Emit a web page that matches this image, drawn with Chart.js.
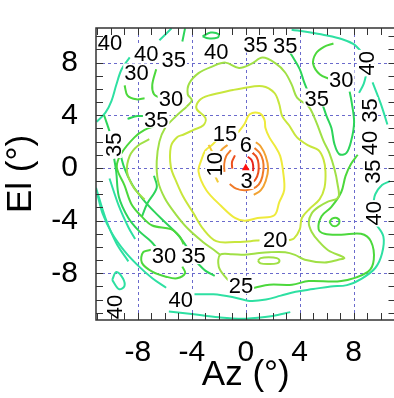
<!DOCTYPE html>
<html><head><meta charset="utf-8">
<script src="https://cdn.jsdelivr.net/npm/chart.js@4"></script>
<style>html,body{margin:0;padding:0;overflow:hidden;background:#fff}canvas{display:block}</style>
</head><body>
<canvas id="c" width="400" height="398"></canvas>
<script>
// ---- axes ----
const xTicks = [-8, -4, 0, 4, 8];
const yTicks = [-8, -4, 0, 4, 8];
const xRange = [-11.1, 11.1];
const yRange = [-11.55, 10.63];

// ---- contour levels (colour per level) ----
const levels = [3, 4, 6, 8, 10, 15, 20, 25, 30, 35, 40];
const levelColors = ['#e8251c', '#ec4f1e', '#f07a28', '#f2a232', '#f2cc3c', '#eeea3c', '#c8e63c', '#a0e046', '#4cd83c', '#2cd45a', '#2ee0a2'];

// ---- contour paths (Az, El in degrees) ----
const c3 = [
  [[0.15,0.85],[0.42,0.62],[0.55,0.18],[0.52,-0.35],[0.3,-0.7]]
];
const c4 = [
  [[0.5,1.15],[0.82,0.8],[0.95,0.3],[0.93,-0.35],[0.72,-0.88],[0.36,-1.18]],
  [[-0.8,0.95],[-1.02,0.45],[-1.0,-0.05]]
];
const c6 = [
  [[0.65,1.52],[1.05,1.12],[1.28,0.55],[1.31,-0.16],[1.12,-0.99],[0.75,-1.46],[0.02,-1.69],[-0.71,-1.57],[-1.19,-1.22]],
  [[-1.1,1.35],[-1.45,0.9],[-1.6,0.3],[-1.58,-0.3]]
];
const c8 = [
  [[0.75,1.95],[1.1,1.65],[1.48,0.89],[1.66,-0.05],[1.48,-0.99],[1.12,-1.69],[0.6,-2.05]],
  [[-1.35,1.75],[-1.75,1.42],[-2.0,1.0]]
];
const c10 = [
  [[-2.75,1.75],[-2.45,1.1],[-2.38,0.3],[-2.3,-0.5],[-2.05,-1.1]]
];
const c15 = [
  [[-0.58,2.68],[-0.07,3.38],[0.29,4.08],[1.02,4.15],[1.39,3.66],[1.46,3.03],[1.75,2.32],[2.19,1.62],[2.55,0.92],[2.77,-0.28],[2.85,-1.69],[2.48,-2.61],[2.12,-3.59],[0.88,-3.8],[-0.07,-4.01],[-0.8,-3.8],[-1.82,-2.89],[-2.92,-1.69],[-3.5,-0.28],[-3.28,0.63],[-2.99,1.34],[-2.48,1.76],[-2.04,2.25]]
];
const c20 = [
  [[3.21,-5.49],[3.58,-5.35],[4.01,-4.65],[4.16,-3.8],[4.74,-3.1],[5.47,-2.39],[5.84,-1.48],[5.91,-0.28],[5.77,0.63],[5.4,1.34],[4.67,1.69],[3.8,2.32],[3.21,3.24],[2.7,3.94],[2.48,4.86],[2.12,5.7],[1.24,6.2],[-0.22,6.06],[-0.95,5.92],[-2.77,5.49],[-3.43,5.14],[-3.65,4.51],[-2.99,3.8],[-3.14,3.24],[-3.87,2.89],[-4.6,2.54],[-5.11,2.32],[-5.55,1.62],[-5.55,0.07],[-5.11,-1.13],[-4.6,-2.25],[-3.87,-3.45],[-3.14,-4.65],[-2.19,-5.56],[-0.8,-5.63],[0.36,-5.56],[1.02,-5.49]]
];
const c25 = [
  [[-4.38,4.65],[-4.0,5.14],[-4.3,5.6],[-4.2,6.4],[-3.5,7.2],[-2.5,7.7],[-1.5,8.0],[-0.5,7.6],[0.4,7.9],[1.24,8.38],[2.19,7.96],[2.92,7.25],[3.43,6.27],[3.8,5.35],[4.67,4.65],[5.04,3.94],[5.4,3.03],[5.77,2.04],[6.2,1.13],[6.57,-0.07],[6.8,-1.2],[6.86,-2.25],[6.13,-2.54],[5.4,-2.96],[4.89,-3.45],[4.67,-4.15],[4.89,-4.86],[5.4,-5.56],[6.13,-6.27],[7.3,-6.83],[6.86,-6.97],[5.84,-7.18],[4.38,-6.97],[3.65,-6.6],[2.92,-6.4],[1.75,-6.4],[0.73,-6.5],[-0.1,-6.6],[-1.0,-6.55],[-1.9,-6.6],[-2.0,-7.5],[-1.5,-8.3],[-1.1,-8.7]],
  [[-4.38,4.65],[-5.2,3.9],[-6.0,3.0],[-6.4,2.0],[-6.6,0.5],[-6.5,-1.0],[-6.0,-2.3],[-5.2,-3.5],[-4.3,-4.6],[-3.2,-5.6],[-2.4,-6.2],[-1.9,-6.6]],
  [[0.9,-7.05],[1.1,-6.85],[1.7,-6.78],[2.3,-6.85],[2.5,-7.05],[2.3,-7.25],[1.7,-7.3],[1.1,-7.25],[0.9,-7.05]],
  [[-7.15,2.18],[-8.0,1.69],[-8.6,0.92],[-8.8,-0.28],[-8.3,-1.5],[-7.5,-2.4]]
];
const c30 = [
  [[8.3,1.0],[7.8,0.3],[7.4,-0.6],[7.08,-1.83],[6.35,-2.96],[5.62,-3.66],[5.4,-4.65],[5.84,-5.0],[7.08,-5.07],[8.54,-5.0],[9.27,-5.56],[9.49,-6.97],[9.05,-7.89],[7.08,-8.59],[4.67,-8.59],[3.43,-8.87],[1.75,-8.87],[0.73,-9.08],[0.45,-9.15]],
  [[6.2,-4.1],[6.4,-3.85],[6.75,-3.8],[6.95,-4.05],[6.8,-4.35],[6.45,-4.4],[6.2,-4.1]],
  [[6.25,6.75],[5.5,7.1],[5.0,7.9],[5.2,8.7],[5.8,9.2],[6.5,9.45]],
  [[-8.98,6.27],[-8.76,5.49],[-8.1,5.21],[-7.5,5.3]],
  [[-6.64,7.5],[-6.93,6.3],[-6.8,5.6],[-6.35,5.3]],
  [[-6.9,-6.2],[-7.6,-6.4],[-7.7,-7.2],[-6.9,-7.9],[-5.9,-8.26],[-5.1,-8.38],[-4.5,-8.0],[-4.7,-7.5]],
  [[-6.6,3.24],[-7.5,2.89],[-8.25,2.32],[-9.2,1.13],[-9.56,0.07],[-8.98,-1.34],[-8.47,-2.75],[-7.74,-3.66],[-6.93,-4.37],[-5.55,-4.65],[-4.9,-5.2],[-4.6,-5.8]]
];
const c35 = [
  [[5.7,4.8],[5.99,3.94],[6.35,3.03],[6.57,1.83],[6.93,1.05],[7.45,1.13],[7.81,2.04],[8.03,3.45],[7.85,5.0],[7.7,5.8]],
  [[4.6,5.8],[4.3,6.6],[4.0,7.5],[3.5,8.4],[3.2,8.9]],
  [[-6.8,-0.6],[-6.6,-1.5],[-7.3,-2.7],[-7.7,-3.7]],
  [[-9.75,0.7],[-9.6,-0.3],[-9.4,-2.2],[-8.7,-3.8],[-7.9,-4.8],[-7.0,-5.6],[-6.6,-6.1]],
  [[-10.5,4.0],[-10.1,2.8]],
  [[-9.4,1.5],[-9.0,0.0],[-8.4,-1.3],[-7.6,-2.4],[-6.8,-3.3],[-5.9,-4.2],[-5.1,-5.0],[-4.5,-5.8],[-4.2,-6.3]],
  [[-3.6,-7.2],[-3.0,-7.8],[-2.3,-8.2]],
  [[-8.76,3.73],[-8.03,3.94],[-7.4,3.94]],
  [[-3.2,10.0],[-2.6,10.28],[-2.0,10.15],[-2.1,9.9],[-2.8,9.85],[-3.2,10.0]],
  [[-4.7,9.6],[-4.5,10.6]]
];
const c40 = [
  [[-8.6,8.4],[-9.2,7.5],[-9.6,6.3],[-9.95,5.1],[-10.4,4.2],[-11.05,3.5]],
  [[-6.4,9.7],[-5.9,10.2],[-5.5,10.6]],
  [[3.4,10.5],[4.7,10.3],[5.8,10.1],[7.1,9.8],[8.0,9.4],[8.6,8.8]],
  [[8.95,7.2],[8.75,6.4],[8.4,5.7]],
  [[9.4,6.5],[10.0,4.9],[10.5,3.3]],
  [[-11.0,-2.0],[-10.6,-3.5],[-9.9,-5.0],[-9.0,-6.3],[-8.0,-7.4],[-6.9,-8.4],[-5.9,-9.1]],
  [[-3.8,-9.6],[-2.4,-9.6],[-1.0,-9.8],[0.3,-10.1],[1.5,-10.0],[2.6,-9.7],[3.7,-9.4],[5.0,-9.2],[6.3,-9.0],[7.5,-8.9],[8.6,-8.4],[9.6,-7.6],[10.1,-6.5],[10.2,-5.2],[9.6,-4.2]],
  [[9.45,-2.7],[9.6,-2.0],[10.1,-1.3],[10.7,-1.0]],
  [[-5.7,-10.9],[-4.0,-11.1],[-2.0,-11.35],[0,-11.45],[2.0,-11.25],[3.3,-10.95]],
  [[-9.9,-8.5],[-9.6,-7.9],[-9.1,-8.4],[-9.0,-9.0],[-9.4,-9.2],[-9.9,-8.5]],
  [[-11.1,-1.5],[-10.4,-3.8],[-9.6,-5.7],[-8.7,-7.1]],
  [[-10.1,-0.8],[-9.4,-2.9],[-8.7,-4.5],[-8.2,-5.4]]
];
const contourSets = [c3, c4, c6, c8, c10, c15, c20, c25, c30, c35, c40];

// ---- inline contour labels ----
const labelText = ['40','40','35','40','35','35','30','30','30','35','35','15','6','10','3','20','30','35','25','40','40','35','40','35','40','35','40'];
const labelX = [-10.07,-7.37,-5.33,-2.19,0.73,2.92,-8.1,7.08,-5.55,5.26,-6.64,-1.53,0,-2.34,0.07,2.19,-6.06,-3.87,-0.36,-4.82,8.9,9.12,9.12,9.34,9.42,-9.85,-9.78];
const labelY = [9.58,8.73,8.31,8.87,9.44,9.37,7.25,6.76,5.35,5.35,3.73,2.68,1.83,0.28,-0.92,-5.42,-6.62,-6.62,-8.87,-9.93,7.96,4.37,1.9,-0.28,-3.45,1.76,-10.56];
const labelVertical = [0,0,0,0,0,0,0,0,0,0,0,0,0,1,0,0,0,0,0,0,1,1,1,1,1,1,1];

const FONT = 'Liberation Sans, Arial, sans-serif';

const datasets = [];
contourSets.forEach((set, i) => {
  set.forEach(path => {
    datasets.push({
      data: path.map(p => ({x: p[0], y: p[1]})),
      showLine: true, borderColor: levelColors[i], borderWidth: 2,
      pointRadius: 0, tension: 0.35, fill: false
    });
  });
});
datasets.push({data: [{x: 0, y: 0}], showLine: false, pointStyle: 'triangle', pointRadius: 4.5,
  backgroundColor: '#ff1010', borderColor: '#ff1010', borderWidth: 0});

const decor = {
  id: 'decor',
  beforeDatasetsDraw(chart) {
    const {ctx, chartArea: a, scales: {x, y}} = chart;
    ctx.save();
    ctx.strokeStyle = '#6a6acc'; ctx.lineWidth = 1; ctx.setLineDash([3, 3]);
    xTicks.forEach(v => { const p = Math.round(x.getPixelForValue(v)) + 0.5; ctx.beginPath(); ctx.moveTo(p, a.top); ctx.lineTo(p, a.bottom); ctx.stroke(); });
    yTicks.forEach(v => { const p = Math.round(y.getPixelForValue(v)) + 0.5; ctx.beginPath(); ctx.moveTo(a.left, p); ctx.lineTo(a.right, p); ctx.stroke(); });
    ctx.restore();
  },
  afterDatasetsDraw(chart) {
    const {ctx, chartArea: a, scales: {x, y}} = chart;
    ctx.save();
    ctx.font = '22px ' + FONT;
    labelText.forEach((t, i) => {
      const px = x.getPixelForValue(labelX[i]), py = y.getPixelForValue(labelY[i]);
      ctx.save();
      ctx.translate(px, py);
      if (labelVertical[i]) ctx.rotate(-Math.PI / 2);
      const w = ctx.measureText(t).width;
      ctx.fillStyle = '#fff';
      ctx.fillRect(-w / 2 - 1, -9, w + 2, 18);
      ctx.fillStyle = '#000'; ctx.textAlign = 'center'; ctx.textBaseline = 'alphabetic';
      ctx.fillText(t, 0, 8);
      ctx.restore();
    });
    // frame and inward ticks
    ctx.strokeStyle = '#333'; ctx.lineWidth = 1.5;
    ctx.strokeRect(a.left, a.top, a.right - a.left, a.bottom - a.top);
    ctx.lineWidth = 1;
    for (let v = -11; v <= 11; v++) {
      const p = Math.round(x.getPixelForValue(v)) + 0.5;
      ctx.beginPath(); ctx.moveTo(p, a.bottom); ctx.lineTo(p, a.bottom - 7);
      ctx.moveTo(p, a.top); ctx.lineTo(p, a.top + 7); ctx.stroke();
    }
    for (let v = -11; v <= 10; v++) {
      const p = Math.round(y.getPixelForValue(v)) + 0.5;
      ctx.beginPath(); ctx.moveTo(a.left, p); ctx.lineTo(a.left + 7, p);
      ctx.moveTo(a.right, p); ctx.lineTo(a.right - 7, p); ctx.stroke();
    }
    ctx.restore();
  }
};

new Chart(document.getElementById('c'), {
  type: 'scatter',
  data: {datasets},
  options: {
    responsive: false, animation: false, devicePixelRatio: 1,
    layout: {padding: {top: 5, right: 0, left: 0, bottom: 0}},
    plugins: {legend: {display: false}, tooltip: {enabled: false}},
    scales: {
      x: {
        type: 'linear', position: 'bottom', min: xRange[0], max: xRange[1],
        afterBuildTicks: s => { s.ticks = xTicks.map(v => ({value: v})); },
        afterFit: s => { s.height = 78; },
        grid: {display: false}, border: {display: false},
        ticks: {color: '#000', font: {family: FONT, size: 30}, padding: 7, maxRotation: 0},
        title: {display: true, text: 'Az (°)', color: '#000', font: {family: FONT, size: 35}, padding: {top: 0, bottom: 2}}
      },
      y: {
        type: 'linear', position: 'left', min: yRange[0], max: yRange[1],
        afterBuildTicks: s => { s.ticks = yTicks.map(v => ({value: v})); },
        afterFit: s => { s.width = 96; },
        grid: {display: false}, border: {display: false},
        ticks: {color: '#000', font: {family: FONT, size: 30}, padding: 10},
        title: {display: true, text: 'El (°)', color: '#000', font: {family: FONT, size: 35}, padding: {top: 0, bottom: 2}}
      }
    }
  },
  plugins: [decor]
});
</script>
</body></html>
